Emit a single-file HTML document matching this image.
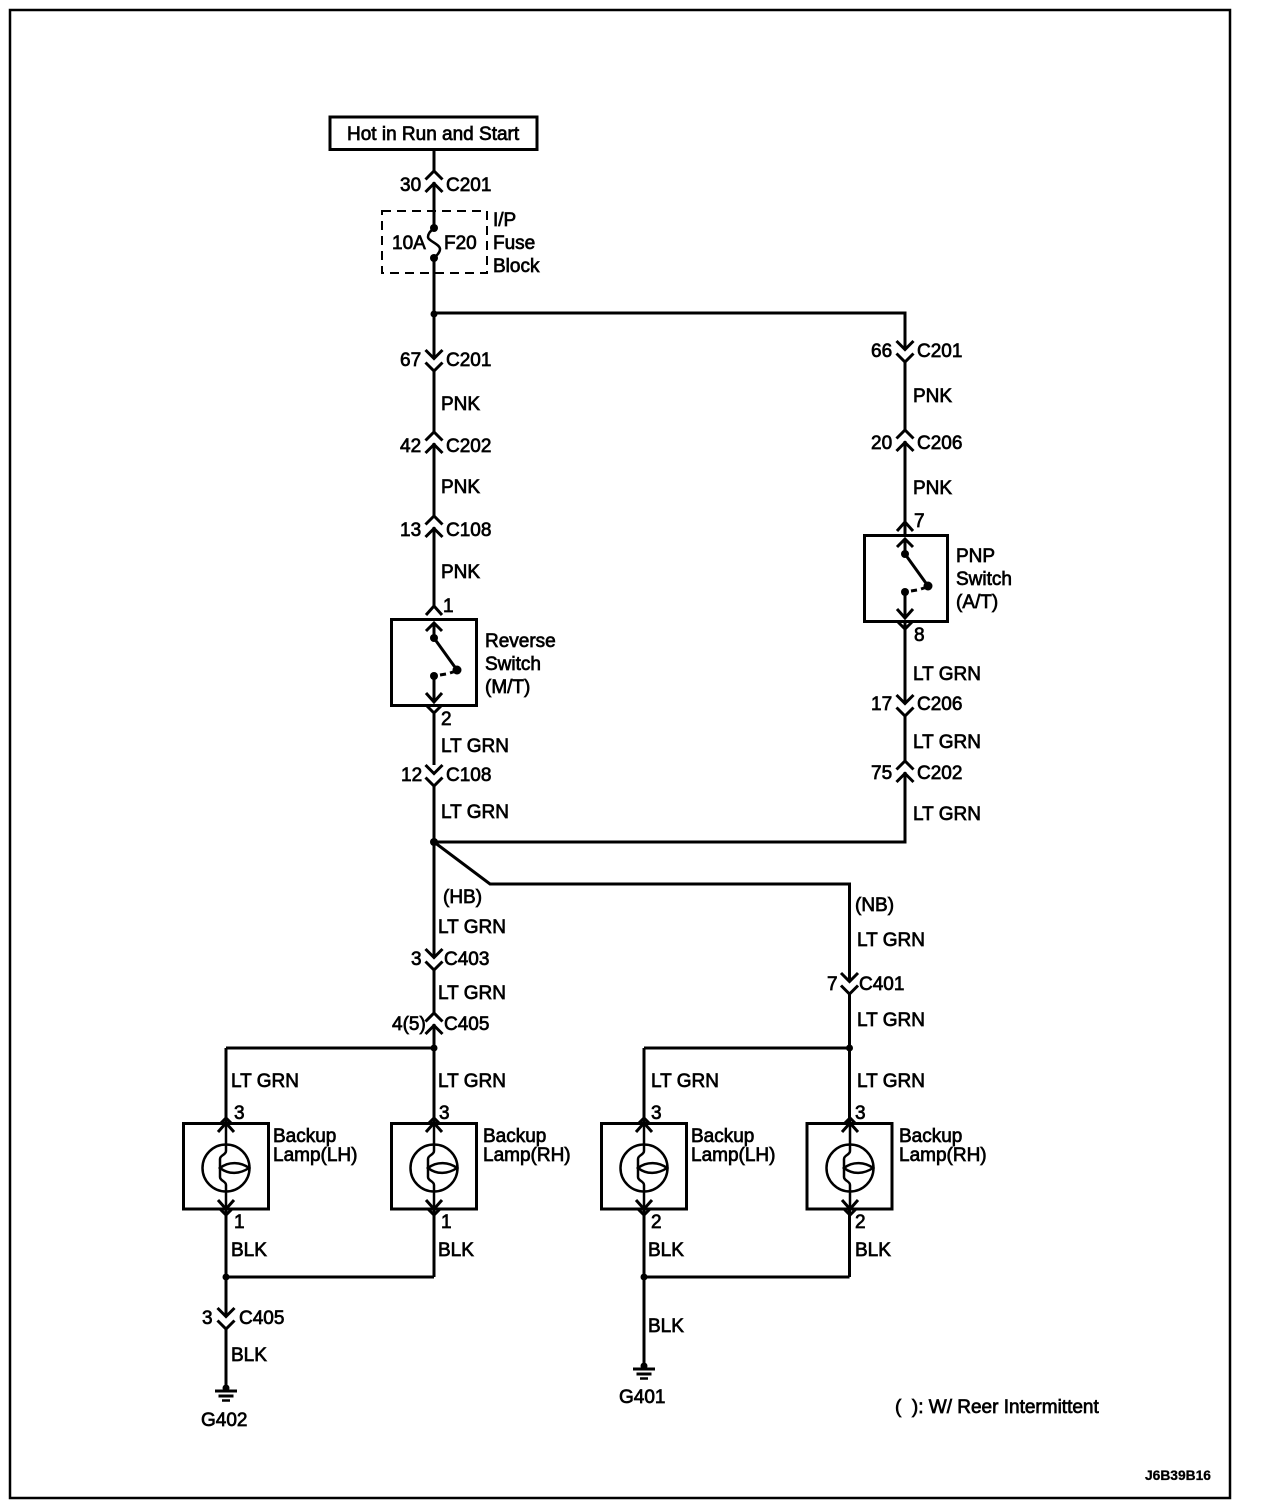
<!DOCTYPE html>
<html><head><meta charset="utf-8"><style>
html,body{margin:0;padding:0;background:#fff}
svg{display:block}
text{font-family:"Liberation Sans",sans-serif;font-size:19px;fill:#000;stroke:#000;stroke-width:.7}
.w{fill:none;stroke:#000;stroke-width:3}
.c{fill:none;stroke:#000;stroke-width:3}
.t{fill:none;stroke:#000;stroke-width:2.5}
.b{fill:#fff;stroke:#000;stroke-width:3}
.d{fill:#000;stroke:none}
</style></head><body>
<svg width="1264" height="1510" viewBox="0 0 1264 1510" xmlns="http://www.w3.org/2000/svg">
<defs>
<g id="u"><rect x="-3" y="-10" width="6" height="10" fill="#fff"/><path class="c" d="M-8.500-2.500 0-11 8.500-2.500M-8.500 10 0 1.500 8.500 10"/></g>
<g id="n"><rect x="-3" y="-1" width="6" height="10" fill="#fff"/><path class="c" d="M-8.500-10 0-1.500 8.500-10M-8.500 2.500 0 11 8.500 2.500"/></g>
<g id="sw">
<path class="w" d="M-8 12 0 4 8 12M-8 74 0 83 8 74"/>
<path class="w" d="M0 4V19L23 51"/>
<path class="w" d="M0 57V83"/>
<path class="w" d="M6 56 12 55M16 54 22 52"/>
<circle class="d" cx="0" cy="19" r="4"/>
<circle class="d" cx="23" cy="51" r="4.500"/>
<circle class="d" cx="0" cy="57" r="4"/>
</g>
<g id="lp">
<circle cx="0" cy="45" r="23.500" class="t"/>
<path class="w" d="M-8 9 0 0 8 9"/>
<path class="w" d="M-8 77 0 86 8 77"/>
<path class="t" d="M0 0V28C0 32-6 32-6 36V54C-6 58 0 58 0 62V86"/>
<path class="t" d="M-6 45C3 38 15 39 23 45C14 51 3 52-6 45Z"/>
</g>
<g id="gr"><path class="w" d="M-11 0H11M-7.500 5H7.500"/><path class="t" d="M-4 9.500H4"/></g>
</defs>
<rect width="1264" height="1510" fill="#fff"/>
<rect x="10" y="10" width="1220" height="1488" fill="none" stroke="#000" stroke-width="2.500"/>
<rect x="330" y="117" width="207" height="32.500" class="b"/>
<rect x="382" y="211" width="105" height="62" fill="none" stroke="#000" stroke-width="2" stroke-dasharray="9 6"/>
<path class="w" d="M434 150V228M434 258V606M434 714V765M434 785V1277M226 1048H434M226 1048V1277M226 1277H434M226 1277V1388"/>
<path class="w" d="M434 313H905V535M905 622V842H434M434 842 490 884H849.500V1277M644 1048H849.500M644 1048V1366M644 1277H849.500"/>
<path class="t" d="M434 228C431 231 428 233 428 237C428 241 440 244 440 249C440 253 436 256 434 258"/>
<g class="d"><circle cx="434" cy="228" r="4"/><circle cx="434" cy="258" r="4"/><circle cx="434" cy="314" r="3.500"/><circle cx="434" cy="842" r="4"/><circle cx="434" cy="1048" r="3.500"/><circle cx="849.500" cy="1048" r="3.500"/><circle cx="226" cy="1277" r="3.500"/><circle cx="644" cy="1277" r="3.500"/><circle cx="226" cy="1388" r="3.500"/><circle cx="644" cy="1366" r="3.500"/></g>
<use href="#u" x="434" y="182"/><use href="#n" x="434" y="360"/><use href="#u" x="434" y="443"/><use href="#u" x="434" y="527"/><use href="#n" x="434" y="775"/><use href="#n" x="434" y="959"/><use href="#u" x="434" y="1024"/><use href="#n" x="226" y="1318"/>
<use href="#n" x="905" y="351"/><use href="#u" x="905" y="441"/><use href="#n" x="905" y="705"/><use href="#u" x="905" y="772"/><use href="#n" x="849.500" y="983"/>
<path class="c" d="M426 615 434 606 442 615M426 705 434 713 442 705M897 531 905 522 913 531M897 621 905 629 913 621"/>
<rect x="391.500" y="619.500" width="85" height="86" class="b"/>
<rect x="864.500" y="535.500" width="83" height="86" class="b"/>
<use href="#sw" x="434" y="619"/><use href="#sw" x="905" y="535"/>
<path class="c" d="M219 1125 226 1118 233 1125M219 1208 226 1215 233 1208M427 1125 434 1118 441 1125M427 1208 434 1215 441 1208M637 1125 644 1118 651 1125M637 1208 644 1215 651 1208M843 1125 850 1118 857 1125M843 1208 850 1215 857 1208"/>
<rect x="183.500" y="1123.500" width="85" height="85.500" class="b"/><rect x="391.500" y="1123.500" width="85" height="85.500" class="b"/><rect x="601.500" y="1123.500" width="85" height="85.500" class="b"/><rect x="807" y="1123.500" width="85" height="85.500" class="b"/>
<use href="#lp" x="226" y="1123"/><use href="#lp" x="434" y="1123"/><use href="#lp" x="644" y="1123"/><use href="#lp" x="850" y="1123"/>
<use href="#gr" x="226" y="1391"/><use href="#gr" x="644" y="1369"/>
<text x="347" y="140">Hot in Run and Start</text>
<text x="400" y="191">30</text><text x="446" y="191">C201</text>
<text x="493" y="226">I/P</text><text x="493" y="249">Fuse</text><text x="493" y="272">Block</text>
<text x="392" y="249">10A</text><text x="444" y="249">F20</text>
<text x="400" y="366">67</text><text x="446" y="366">C201</text>
<text x="441" y="410">PNK</text>
<text x="400" y="452">42</text><text x="446" y="452">C202</text>
<text x="441" y="493">PNK</text>
<text x="400" y="536">13</text><text x="446" y="536">C108</text>
<text x="441" y="578">PNK</text>
<text x="443" y="612">1</text>
<text x="485" y="647">Reverse</text><text x="485" y="670">Switch</text><text x="485" y="693">(M/T)</text>
<text x="441" y="725">2</text>
<text x="441" y="752">LT GRN</text>
<text x="401" y="781">12</text><text x="446" y="781">C108</text>
<text x="441" y="818">LT GRN</text>
<text x="871" y="357">66</text><text x="917" y="357">C201</text>
<text x="913" y="402">PNK</text>
<text x="871" y="449">20</text><text x="917" y="449">C206</text>
<text x="913" y="494">PNK</text>
<text x="914" y="527">7</text>
<text x="956" y="562">PNP</text><text x="956" y="585">Switch</text><text x="956" y="608">(A/T)</text>
<text x="914" y="641">8</text>
<text x="913" y="680">LT GRN</text>
<text x="871" y="710">17</text><text x="917" y="710">C206</text>
<text x="913" y="748">LT GRN</text>
<text x="871" y="779">75</text><text x="917" y="779">C202</text>
<text x="913" y="820">LT GRN</text>
<text x="443" y="903">(HB)</text>
<text x="438" y="933">LT GRN</text>
<text x="411" y="965">3</text><text x="444" y="965">C403</text>
<text x="438" y="999">LT GRN</text>
<text x="392" y="1030">4(5)</text><text x="444" y="1030">C405</text>
<text x="855" y="911">(NB)</text>
<text x="857" y="946">LT GRN</text>
<text x="827" y="990">7</text><text x="859" y="990">C401</text>
<text x="857" y="1026">LT GRN</text>
<text x="231" y="1087">LT GRN</text><text x="438" y="1087">LT GRN</text><text x="651" y="1087">LT GRN</text><text x="857" y="1087">LT GRN</text>
<text x="234" y="1119">3</text><text x="439" y="1119">3</text><text x="651" y="1119">3</text><text x="855" y="1119">3</text>
<text x="273" y="1142">Backup</text><text x="273" y="1161">Lamp(LH)</text>
<text x="483" y="1142">Backup</text><text x="483" y="1161">Lamp(RH)</text>
<text x="691" y="1142">Backup</text><text x="691" y="1161">Lamp(LH)</text>
<text x="899" y="1142">Backup</text><text x="899" y="1161">Lamp(RH)</text>
<text x="234" y="1228">1</text><text x="441" y="1228">1</text><text x="651" y="1228">2</text><text x="855" y="1228">2</text>
<text x="231" y="1256">BLK</text><text x="438" y="1256">BLK</text><text x="648" y="1256">BLK</text><text x="855" y="1256">BLK</text>
<text x="202" y="1324">3</text><text x="239" y="1324">C405</text>
<text x="231" y="1361">BLK</text>
<text x="648" y="1332">BLK</text>
<text x="201" y="1426">G402</text>
<text x="619" y="1403">G401</text>
<text x="895" y="1413">(&#160;&#160;): W/ Reer Intermittent</text>
<text x="1145" y="1480" style="font-size:13.800px;font-weight:bold;stroke-width:.3">J6B39B16</text>
</svg>
</body></html>
